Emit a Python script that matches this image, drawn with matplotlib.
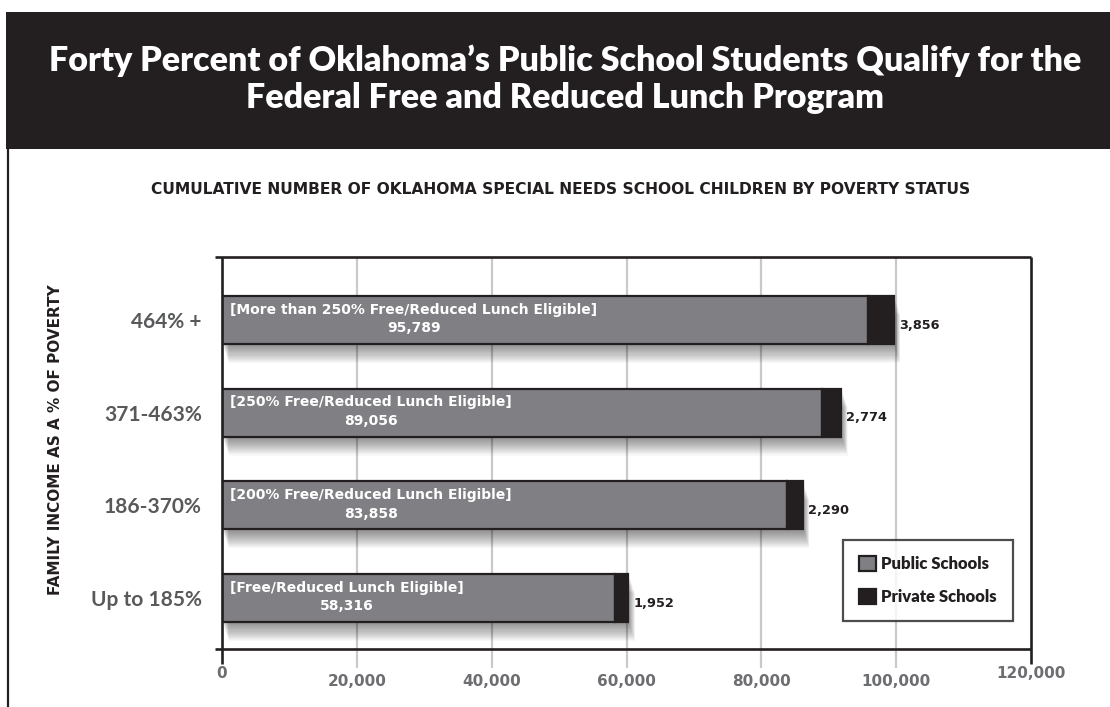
import matplotlib
matplotlib.use("Agg")
import matplotlib.pyplot as plt
import matplotlib.patheffects as pe
from matplotlib import transforms
from matplotlib.patches import Rectangle, Patch
from matplotlib.lines import Line2D

plt.rcParams['font.family'] = ['Lato', 'DejaVu Sans']
WIDE = ['DejaVu Sans']

# ---- data ----
income_groups = ["Up to 185%", "186-370%", "371-463%", "464% +"]
eligibility = ["[Free/Reduced Lunch Eligible]",
               "[200% Free/Reduced Lunch Eligible]",
               "[250% Free/Reduced Lunch Eligible]",
               "[More than 250% Free/Reduced Lunch Eligible]"]
public_schools = [58316, 83858, 89056, 95789]
private_schools = [1952, 2290, 2774, 3856]
x_ticks = [0, 20000, 40000, 60000, 80000, 100000, 120000]
x_tick_labels = ["0", "20,000", "40,000", "60,000", "80,000", "100,000", "120,000"]

title = ("Forty Percent of Oklahoma\u2019s Public School Students Qualify for the\n"
         "Federal Free and Reduced Lunch Program")
subtitle = "CUMULATIVE NUMBER OF OKLAHOMA SPECIAL NEEDS SCHOOL CHILDREN BY POVERTY STATUS"
ylabel = "FAMILY INCOME AS A % OF POVERTY"

DARK = "#231f20"
GRAY = "#808084"
GRID = "#c9c9c9"
TICK_GRAY = "#6d6e71"
W, H = 1110, 707

fig = plt.figure(figsize=(W / 100, H / 100), dpi=100)
fig.patch.set_facecolor("white")

def fx(px):
    return px / W

def fy(py):
    return 1 - py / H

# title banner and panel border
fig.patches.append(Rectangle((fx(6), fy(149)), 1 - fx(6), fy(12) - fy(149),
                             transform=fig.transFigure, facecolor=DARK,
                             edgecolor="none", zorder=0))
fig.lines.append(Line2D([fx(8), fx(8)], [fy(148), 0], transform=fig.transFigure,
                        color=DARK, lw=1.6))
fig.text(fx(565), fy(79), title, ha="center", va="center", color="white",
         fontsize=24.5, fontweight="heavy", linespacing=1.18)
fig.text(fx(561), fy(189), subtitle, ha="center", va="center", color=DARK,
         fontsize=11.2, fontweight="bold", family=WIDE)
fig.text(fx(56), fy(440), ylabel, ha="center", va="center", rotation=90,
         color=DARK, fontsize=11, fontweight="bold", family=WIDE)

# axes
ax_l, ax_r, ax_t, ax_b = 222, 1031, 257, 649
ax = fig.add_axes([fx(ax_l), fy(ax_b), fx(ax_r - ax_l), (ax_b - ax_t) / H])
ax.set_xlim(0, 120000)
ax.set_ylim(-0.55, 3.68)
ax.set_facecolor("none")
for s in ax.spines.values():
    s.set_visible(False)
ax.set_xticks([])
ax.set_yticks(range(len(income_groups)))
ax.set_yticklabels(income_groups, fontsize=15, fontweight="bold", color="#58595b")
ax.tick_params(axis="y", length=0, pad=14.5)

# frame lines, slightly extended past the corners
ext_x = 7 / (ax_r - ax_l)
ext_y = 15 / (ax_b - ax_t)
frame_kw = dict(transform=ax.transAxes, color=DARK, lw=1.9, clip_on=False,
                solid_capstyle="butt", zorder=5)
ax.plot([-ext_x, 1], [1, 1], **frame_kw)
ax.plot([-ext_x, 1], [0, 0], **frame_kw)
ax.plot([0, 0], [-ext_y, 1], **frame_kw)
ax.plot([1, 1], [-ext_y, 1], **frame_kw)

# vertical grid lines
grid_ext = 19 / (ax_b - ax_t)
ax.vlines(x_ticks[1:-1], -grid_ext, 1, transform=ax.get_xaxis_transform(),
          colors=GRID, lw=1.6, clip_on=False, zorder=0)

# x tick labels
for v, lab in zip(x_ticks, x_tick_labels):
    drop = 24 if v in (x_ticks[0], x_ticks[-1]) else 33
    tr = transforms.offset_copy(ax.get_xaxis_transform(), fig=fig, y=-drop, units="dots")
    ax.text(v, 0, lab, transform=tr, ha="center", va="center", fontsize=11,
            fontweight="bold", color=TICK_GRAY, family=WIDE)

# soft drop shadow under bars (many faint layers for a smooth falloff)
shadow = [pe.SimplePatchShadow(offset=(0.5 + 0.25 * i, -0.75 * (i + 1)),
                               shadow_rgbFace="black", alpha=0.028)
          for i in range(18)]
shadow.append(pe.Normal())

y = list(range(len(income_groups)))
bar_h = 0.52
ax.barh(y, public_schools, height=bar_h, color=GRAY, edgecolor=DARK,
        linewidth=1.6, zorder=2, path_effects=shadow)
ax.barh(y, private_schools, left=public_schools, height=bar_h, color=DARK,
        edgecolor=DARK, linewidth=1.6, zorder=2, path_effects=shadow)

# labels inside and beside bars
inside_tr = transforms.offset_copy(ax.transData, fig=fig, x=8, y=1, units="dots")
end_tr = transforms.offset_copy(ax.transData, fig=fig, x=5, y=-5, units="dots")
for yi, lab, pub, prv in zip(y, eligibility, public_schools, private_schools):
    ax.text(0, yi, f"{lab}\n{pub:,}", transform=inside_tr, ha="left", va="center",
            ma="center", color="white", fontsize=10, fontweight="bold",
            linespacing=1.4, zorder=4, family=WIDE)
    ax.text(pub + prv, yi, f"{prv:,}", transform=end_tr, ha="left", va="center",
            color=DARK, fontsize=9.3, fontweight="bold", zorder=4, family=WIDE)

# legend
handles = [Patch(facecolor=GRAY, edgecolor=DARK, linewidth=1.6),
           Patch(facecolor=DARK, edgecolor=DARK, linewidth=1.6)]
leg = ax.legend(handles, ["Public Schools", "Private Schools"], loc="upper left",
                bbox_to_anchor=((843 - ax_l) / (ax_r - ax_l), (ax_b - 540) / (ax_b - ax_t)),
                frameon=True, fancybox=False, borderaxespad=0, borderpad=0.95,
                handlelength=1.05, handleheight=1.05, handletextpad=0.3,
                labelspacing=1.0, prop={"weight": "heavy", "size": 12})
leg.get_frame().set_edgecolor(DARK)
leg.get_frame().set_linewidth(1.6)
for t in leg.get_texts():
    t.set_color(DARK)
leg.set_zorder(6)

fig.savefig("out.png", dpi=100)
